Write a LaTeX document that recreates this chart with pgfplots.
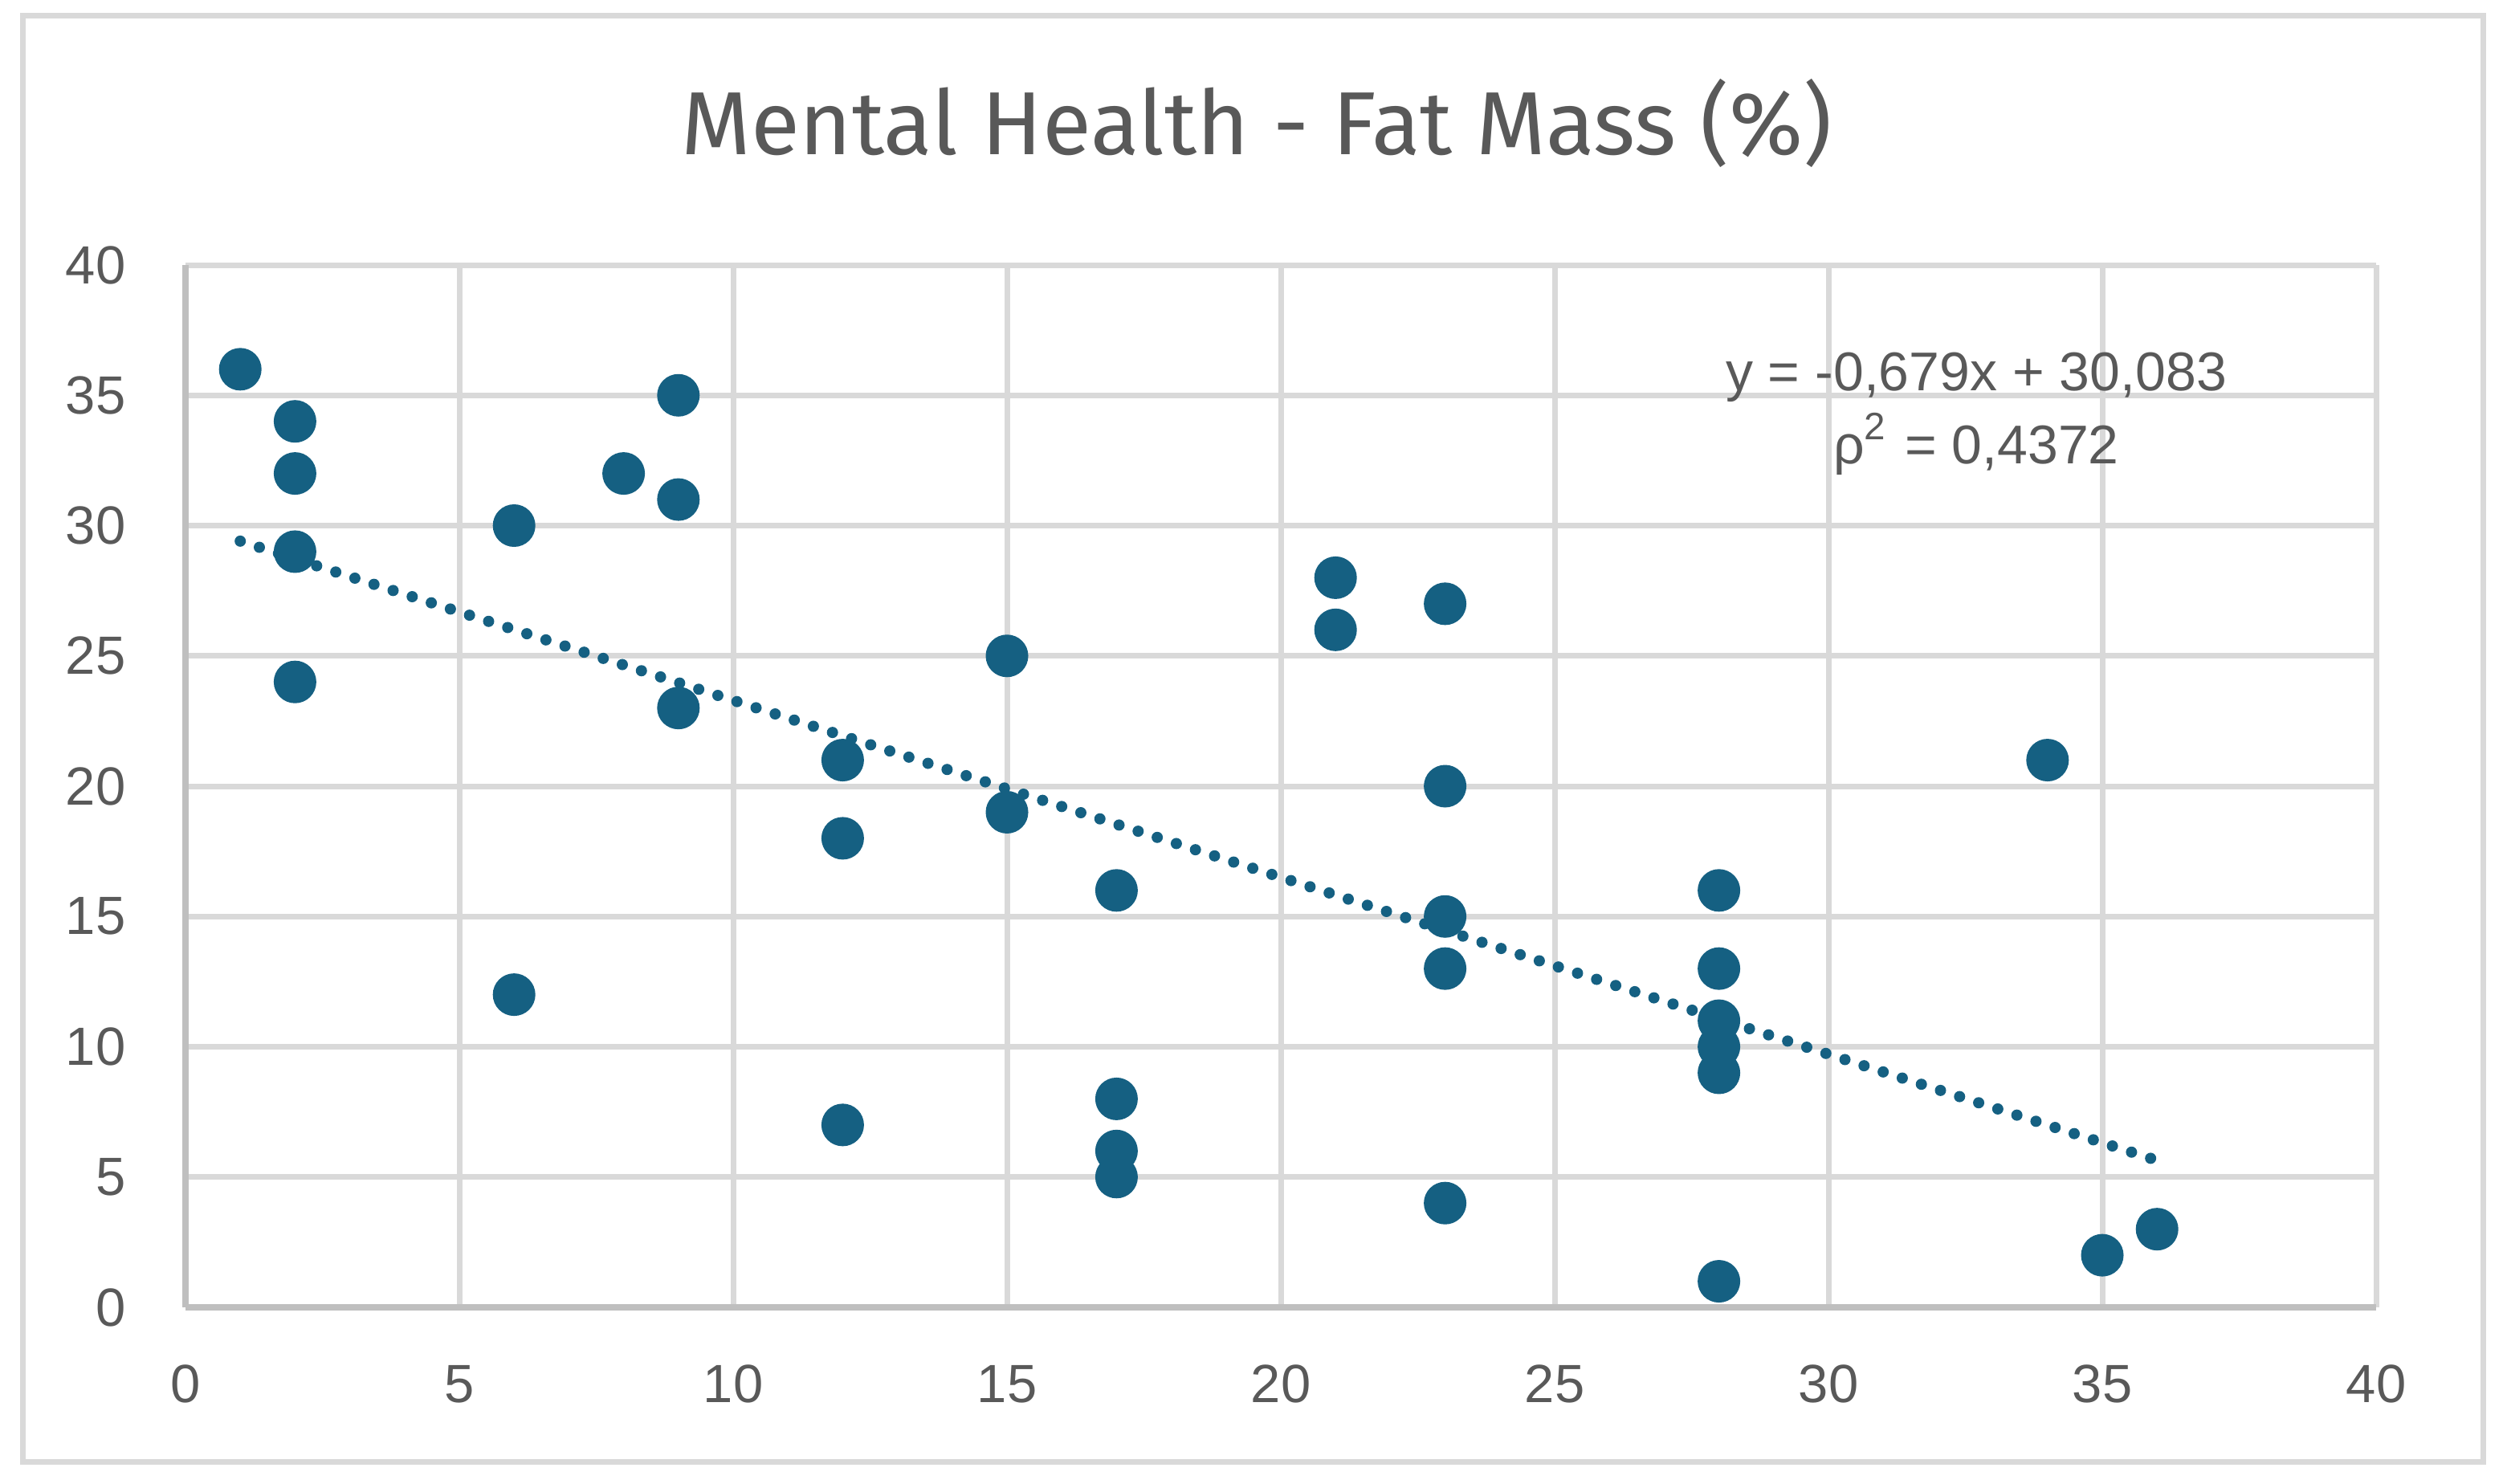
\documentclass[border=0pt]{standalone}
\usepackage{fontspec}
\setmainfont{Liberation Sans}
\newfontfamily\titlefont{Fira Sans}
\usepackage{pgfplots}
\pgfplotsset{compat=1.18}
\definecolor{mk}{HTML}{156082}
\definecolor{gridc}{HTML}{D9D9D9}
\definecolor{axisc}{HTML}{BFBFBF}
\definecolor{txt}{HTML}{595959}
\begin{document}
\begin{tikzpicture}[x=1pt,y=1pt]
\useasboundingbox (0,0) rectangle (312.2,184.7);
\draw[gridc, line width=0.7pt] (2.8,2.7) rectangle (309.2,182.7);
\begin{axis}[
  at={(23.1pt,21.9pt)}, anchor=south west,
  scale only axis, width=272.8pt, height=129.8pt,
  xmin=0, xmax=40, ymin=0, ymax=40,
  xtick={0,5,...,40}, ytick={0,5,...,40},
  grid=major, major grid style={gridc, line width=0.7pt},
  axis lines*=left, axis line style={axisc, line width=0.8pt, -},
  major tick length=0pt,
  /pgf/number format/assume math mode=true,
  ticklabel style={font=\fontsize{6.7}{8}\selectfont, text=txt},
  yticklabel style={anchor=east, inner sep=0pt, xshift=-7.25pt},
  xticklabel style={anchor=north, inner sep=0pt, yshift=-7.0pt},
]
\addplot[only marks, mark=*, mark size=2.45pt, color=mk, draw=mk, fill=mk] coordinates {
(1,36) (2,34) (2,32) (2,29) (2,24) (6,30) (6,12) (8,32) (9,35) (9,31) (9,23)
(12,21) (12,18) (12,7) (15,25) (15,19) (17,16) (17,8) (17,6) (17,5)
(21,28) (21,26) (23,27) (23,20) (23,15) (23,13) (23,4)
(28,16) (28,13) (28,11) (28,10) (28,9) (28,1) (34,21) (35,2) (36,3)
};
\addplot[mk, line width=1.4pt, line cap=round, dash pattern=on 0pt off 2.5pt] coordinates {(1,29.404) (36,5.639)};
\end{axis}
\node[anchor=base, text=txt, font=\titlefont\fontsize{11.15}{13}\selectfont] at (156.5,165.4) {Mental Health - Fat Mass (\%)};
\node[anchor=base, text=txt, font=\fontsize{6.8}{8}\selectfont] at (246.1,136.0) {y = -0,679x + 30,083};
\node[anchor=base, text=txt, font=\fontsize{6.8}{8}\selectfont] at (246.1,126.9) {ρ\textsuperscript{2} = 0,4372};
\end{tikzpicture}
\end{document}
